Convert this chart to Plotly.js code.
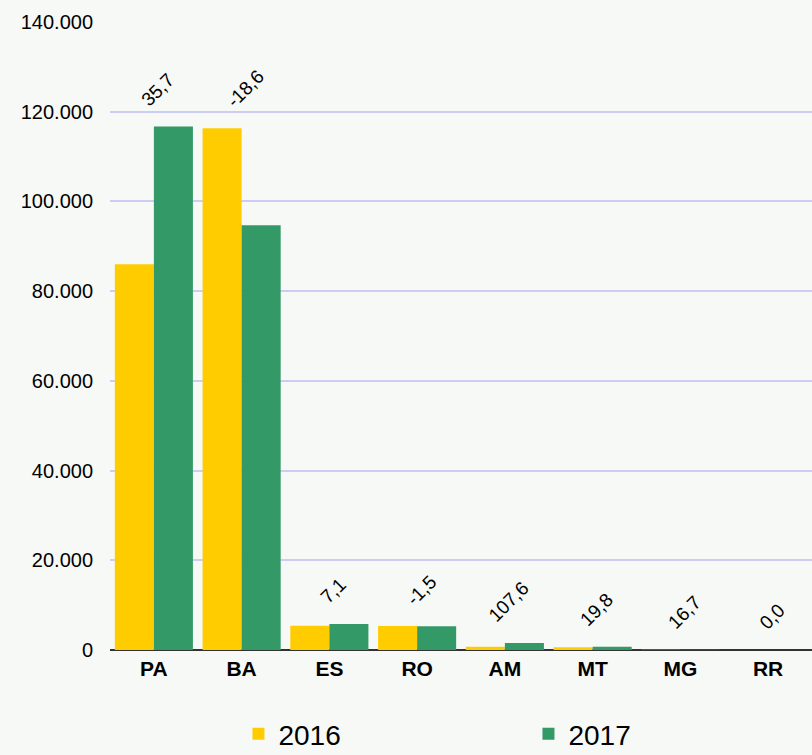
<!DOCTYPE html>
<html><head><meta charset="utf-8">
<script src="https://cdn.plot.ly/plotly-3.0.1.min.js"></script>
<style>html,body{margin:0;padding:0;background:#f7f9f6;}</style>
</head><body>
<div id="chart" style="width:812px;height:755px;"></div>
<script>
var categories = ["PA","BA","ES","RO","AM","MT","MG","RR"];
var values2016 = [86000, 116300, 5400, 5350, 750, 600, 60, 5];
var values2017 = [116700, 94700, 5780, 5270, 1560, 720, 70, 5];
var changeLabels = ["35,7","-18,6","7,1","-1,5","107,6","19,8","16,7","0,0"];
var seriesNames = ["2016","2017"];

var annotations = categories.map(function(c,i){
  return {x:c, y:Math.max(values2016[i],values2017[i]), xref:'x', yref:'y',
    text:changeLabels[i], showarrow:false, textangle:-45,
    yanchor:'bottom', xanchor:'center', yshift:14, xshift:4,
    font:{family:'Liberation Sans, Arial, sans-serif', size:19, color:'#000'}};
});

var data = [
  {type:'bar', name:seriesNames[0], x:categories, y:values2016, marker:{color:'#FFCC00'}, hoverinfo:'none'},
  {type:'bar', name:seriesNames[1], x:categories, y:values2017, marker:{color:'#339966'}, hoverinfo:'none'}
];
var layout = {
  width:812, height:755,
  margin:{l:110, r:0, t:22, b:105, autoexpand:false},
  paper_bgcolor:'#f7f9f6', plot_bgcolor:'#f7f9f6',
  separators:',.',
  barmode:'group', bargap:0.11, bargroupgap:0,
  font:{family:'Liberation Sans, Arial, sans-serif', color:'#000'},
  xaxis:{tickfont:{size:21, family:'Liberation Sans, Arial, sans-serif', weight:'bold'}, showline:false, ticks:'', ticklabelstandoff:4, fixedrange:true, automargin:false},
  yaxis:{range:[0,140000], dtick:20000, tickformat:',d', gridcolor:'#ccccf5', gridwidth:2,
    zeroline:true, zerolinecolor:'#333', zerolinewidth:2,
    tickfont:{size:20}, ticks:'', ticklen:0, ticklabelstandoff:16, fixedrange:true, automargin:false},
  showlegend:true,
  legend:{orientation:'h', x:0.183, y:-0.094, xanchor:'left', yanchor:'top',
    font:{size:28}, entrywidth:245, entrywidthmode:'pixels', bgcolor:'rgba(0,0,0,0)'},
  annotations:annotations
};
Plotly.newPlot('chart', data, layout, {displayModeBar:false, staticPlot:true});
</script>
</body></html>
